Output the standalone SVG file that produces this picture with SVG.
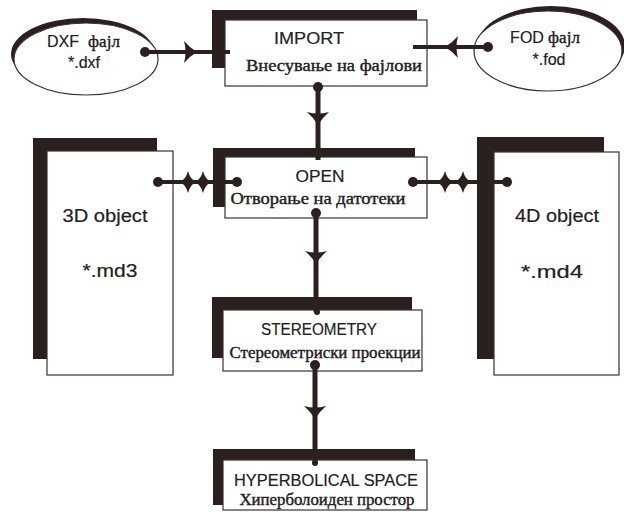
<svg xmlns="http://www.w3.org/2000/svg" xmlns:xlink="http://www.w3.org/1999/xlink" width="624" height="523" viewBox="0 0 624 523">
<style>
.bg{fill:#ffffff}
.sh{fill:#2b2020}
.box{fill:#ffffff;stroke:#3a3333;stroke-width:1.2}
.ell{fill:#ffffff;stroke:#3a3333;stroke-width:1.2}
.ln{stroke:#2b2020;fill:none;stroke-linecap:butt}
.h{stroke-width:4}
.v{stroke-width:5}
.dot{fill:#2b2020}
.t{font-family:"Liberation Sans","DejaVu Sans",sans-serif;fill:#222;stroke:#222;stroke-width:0.2;text-anchor:middle}
.c{font-family:"Liberation Serif","DejaVu Serif",serif;fill:#222;stroke:#222;stroke-width:0.4;text-anchor:middle}
</style>
<defs>
<path id="ah" d="M-6,-11 Q0,-4 7,0 Q0,4 -6,11 Q-3,0 -6,-11 Z" fill="#2b2020"/>
<path id="dm" d="M-8,0 Q-2,-3 0,-11 Q2,-3 8,0 Q2,3 0,11 Q-2,3 -8,0 Z" fill="#2b2020"/>
</defs>
<rect class="bg" x="0" y="0" width="624" height="523"/>

<g id="dxf">
<ellipse class="sh" cx="83" cy="54" rx="72" ry="36"/>
<ellipse class="ell" cx="86" cy="59" rx="72" ry="36"/>
<text y="47" font-size="16"><tspan class="t" x="63">DXF</tspan><tspan class="c" x="104" font-size="17">фајл</tspan></text>
<text class="t" x="84" y="68" font-size="16">*.dxf</text>
</g>

<g id="fod">
<ellipse class="sh" cx="551" cy="46" rx="74" ry="40"/>
<ellipse class="ell" cx="548" cy="51" rx="74" ry="40"/>
<text y="43" font-size="16"><tspan class="t" x="527">FOD</tspan><tspan class="c" x="564" font-size="17">фајл</tspan></text>
<text class="t" x="549" y="65" font-size="16">*.fod</text>
</g>

<g id="import">
<rect class="sh" x="212" y="10" width="205" height="58"/>
<rect class="box" x="225" y="20" width="202" height="66"/>
<text class="t" x="309" y="44" font-size="17" textLength="70" lengthAdjust="spacingAndGlyphs">IMPORT</text>
<text class="c" x="334" y="71" font-size="16" textLength="176" lengthAdjust="spacingAndGlyphs">Внесување на фајлови</text>
</g>

<g id="open">
<rect class="sh" x="213" y="148" width="202" height="59"/>
<rect class="box" x="225" y="157" width="202" height="61"/>
<text class="t" x="320" y="182" font-size="17" textLength="49" lengthAdjust="spacingAndGlyphs">OPEN</text>
<text class="c" x="318" y="204" font-size="16" textLength="175" lengthAdjust="spacingAndGlyphs">Отворање на датотеки</text>
</g>

<g id="obj3d">
<rect class="sh" x="33" y="138" width="124" height="221"/>
<rect class="box" x="47" y="151" width="126" height="224"/>
<text class="t" x="105" y="222" font-size="18" textLength="85" lengthAdjust="spacingAndGlyphs">3D object</text>
<text class="t" x="110" y="277" font-size="18" textLength="55" lengthAdjust="spacingAndGlyphs">*.md3</text>
</g>

<g id="obj4d">
<rect class="sh" x="477" y="137" width="127" height="222"/>
<rect class="box" x="494" y="152" width="125" height="223"/>
<text class="t" x="557" y="222" font-size="18" textLength="84" lengthAdjust="spacingAndGlyphs">4D object</text>
<text class="t" x="552" y="278" font-size="18" textLength="62" lengthAdjust="spacingAndGlyphs">*.md4</text>
</g>

<g id="stereometry">
<rect class="sh" x="212" y="297" width="200" height="61"/>
<rect class="box" x="223" y="310" width="199" height="61"/>
<text class="t" x="319" y="335" font-size="17" textLength="116" lengthAdjust="spacingAndGlyphs">STEREOMETRY</text>
<text class="c" x="325" y="358" font-size="16" textLength="191" lengthAdjust="spacingAndGlyphs">Стереометриски проекции</text>
</g>

<g id="hyperbolical">
<rect class="sh" x="213" y="449" width="202" height="56"/>
<rect class="box" x="223" y="460" width="204" height="50"/>
<text class="t" x="326" y="486" font-size="17" textLength="184" lengthAdjust="spacingAndGlyphs">HYPERBOLICAL SPACE</text>
<text class="c" x="327" y="505" font-size="16" textLength="175" lengthAdjust="spacingAndGlyphs">Хиперболоиден простор</text>
</g>

<g id="connectors">
<!-- DXF -> IMPORT -->
<line class="ln h" x1="145" y1="52" x2="230" y2="52"/>
<circle class="dot" cx="145" cy="52" r="5"/>
<use xlink:href="#ah" transform="translate(190,52)"/>
<!-- FOD -> IMPORT -->
<line class="ln h" x1="413" y1="47" x2="488" y2="47"/>
<circle class="dot" cx="488" cy="47" r="5"/>
<use xlink:href="#ah" transform="translate(452,47) rotate(180)"/>
<!-- IMPORT -> OPEN -->
<line class="ln v" x1="318" y1="87" x2="318" y2="160"/>
<circle class="dot" cx="318" cy="87" r="5"/>
<use xlink:href="#ah" transform="translate(318,118) rotate(90)"/>
<!-- 3D <-> OPEN -->
<line class="ln h" x1="158" y1="182" x2="237" y2="182"/>
<circle class="dot" cx="158" cy="182" r="5"/>
<circle class="dot" cx="237" cy="182" r="5"/>
<use xlink:href="#dm" transform="translate(188,182)"/>
<use xlink:href="#dm" transform="translate(203,182)"/>
<!-- OPEN <-> 4D -->
<line class="ln h" x1="413" y1="182" x2="507" y2="182"/>
<circle class="dot" cx="413" cy="182" r="5"/>
<circle class="dot" cx="507" cy="182" r="5"/>
<use xlink:href="#dm" transform="translate(445,182)"/>
<use xlink:href="#dm" transform="translate(463,182)"/>
<!-- OPEN -> STEREOMETRY -->
<line class="ln v" x1="316" y1="213" x2="316" y2="312"/>
<circle class="dot" cx="316" cy="213" r="5"/>
<circle class="dot" cx="317" cy="312" r="3"/>
<use xlink:href="#ah" transform="translate(316,257) rotate(90)"/>
<!-- STEREOMETRY -> HYPERBOLICAL -->
<line class="ln v" x1="315" y1="365" x2="315" y2="463"/>
<circle class="dot" cx="315" cy="365" r="5"/>
<circle class="dot" cx="315" cy="463" r="3"/>
<use xlink:href="#ah" transform="translate(315,412) rotate(90)"/>
</g>
</svg>
